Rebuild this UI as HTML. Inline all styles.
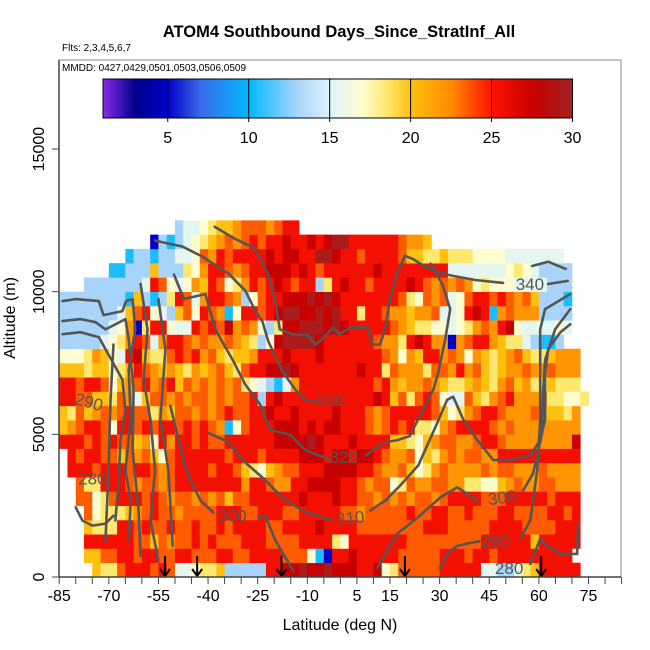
<!DOCTYPE html>
<html><head><meta charset="utf-8"><style>
html,body{margin:0;padding:0;background:#fff;}
svg{display:block;font-family:"Liberation Sans",Arial,sans-serif;}
</style></head><body>
<svg id="chart" width="650" height="650" viewBox="0 0 650 650" xmlns="http://www.w3.org/2000/svg">
<defs>
<linearGradient id="cbgrad" x1="0" x2="1" y1="0" y2="0"></linearGradient>
<clipPath id="plotclip"><rect x="59" y="60" width="562" height="517"/></clipPath>
</defs>
<text x="339" y="37" text-anchor="middle" font-size="16.5" font-weight="bold">ATOM4 Southbound Days_Since_StratInf_All</text>
<text x="62" y="51" font-size="10">Flts: 2,3,4,5,6,7</text>
<g id="heat" clip-path="url(#plotclip)"></g>
<g id="contours" clip-path="url(#plotclip)"></g>
<g id="arrows"></g>
<rect x="59" y="60" width="562" height="517" fill="none" stroke="#888" stroke-width="1"/>
<text x="62" y="71" font-size="10">MMDD: 0427,0429,0501,0503,0506,0509</text>
<g id="colorbar"></g>
<g id="axes"></g>
<text x="340" y="630" text-anchor="middle" font-size="16">Latitude (deg N)</text>
<text transform="translate(15,318) rotate(-90)" text-anchor="middle" font-size="16">Altitude (m)</text>
</svg>
<script>
// ---------- data ----------
const latTicks = [-85,-70,-55,-40,-25,-10,5,15,30,45,60,75];
const altTicks = [0,5000,10000,15000];
const cbTicks = [5,10,15,20,25,30];
const binWidthDeg = 2.5;
const binHeightM = 500;
const latOrigin = -85;
// value codes for the cell strings
const codeKeys = ['B','b','l','p','w','y','g','o','O','r','R','m'];
const codeVals = [5,10.5,13,15.5,17,18.5,20,22,23.5,25.5,27.5,29.5];
// altitude bins (row 0 = 0-500 m)
const rowStart = [4,3,3,3,3,2,2,1,1,0,0,0,0,0,0,0,0,0,0,0,3,6,8,11,14];
const rowCells = [
 "gyyOrrrOrOppwyyglllllrrRRmRRmRRRrrRwyOOOOOrrrrrppllpygrrrrr",
 "ggOOrrOrrOOrrOOOrrOOrrrrOOOwbBrrRrrrrrOOOOOrrrOrrOrrrrrrrrr",
 "rrrrrrOOgOoOOrOrOOOrrrOOOOrrrrywrrrrrrrOOOOOOOOOrrrrrrgrrrrr",
 "gyyyrrOrOOrOOrOOrOrrrrOOrrrrRrrrrOOOOOOOOrrrOOOOOrrrrOOOOrrr",
 "OwyyygoOrOOoOOOOrrrOOrrrOOrrrrrOOoOOOOOrOOrrOOrOOOrrOOOOrrOr",
 "OOwyOrrrOrOoOOoOoOgOOrrrrrrRrrrRrrOOoOoOoOOoOrrrrOOOrrrrrOrrr",
 "OyyrrrOoOOoOrrrrrrrrorrOoorrRRRRrrOoOOwyOooOOooyywwgoOooOOooo",
 "rrrOrrrOrrOoOrrrrOrrOgywgoOOrrrRRRRrrOooOgwyoOooooOoOOoooOoooo",
 "rOrrOOgOoOgwOrrrrrrOrrrOrrrrRRRrRRrRRrOooOwgyoOoOOoorrrrrrrrrr",
 "rrrOrOrOOgowrorrOrOOrrrrrrRRRRmRrrrRrrrrggywgoOOooOrrOooooooooR",
 "goOrrOwrrOrOrrOrOrOobwOrrrRRRrRrRRrrrOoOrOryywoOrrrrOoOoooooooo",
 "gyOgoOoOrOOyogOOoOoOrOOrrRrrRrrrrRrrrOoOrrrrrOgwyoOrrOoooOgggyo",
 "rrOOggyOopgOOoOoOOoOoOOrlrRrrrrrrrrrrrRrgOyOrOwppOgyoOrooooyywwy",
 "rrOrrOwgoOroOrgOoOoOoOywplbporrrrrrrrrOrogooOogyygogyoOgoyygyyy",
 "gggyggwygrOogogyogoOgyOrrRRmRrrrrrrrRrryOoooyOOoroOgygooOooOooo",
 "wwwyogwprRgyyOrOroOgyggorrrRrrrRrrrrrrrOowogrroOowogygoOgyygooo",
 "lllllpwyorOporrOoOooOogylwRmmmmRrrrrrrOooyrRrooBoOrrogyyplbbl",
 "llllllpwoByrrwpprOrORoOowlyRRmmmRmRrrrrrOogyywwpwyoOorRwppppwp",
 "lllllllpgOrwplgOwrOobwrrOrRmmRRmRmrryrrOoogooOppwrRrboOooollll",
 "llllllllbglblyrOporrOolwOrrRRRmRmRrrrrrrrOywOoOpwOrrOrOoOglllb",
 "lllllllprOwpwogrOwyorOrRrOrrlyrRrrOrrrrRrOoOoOowywwwpppplll",
 "bblllglllyworrOoOrrRRRrRrOrrrrrrRrrrrrrrrpppppppwywpllll",
 "bllbllppwOorOrrrrRrRRrrmmRrrOrrrrOggyygyyywwwwppppppp",
 "BlblpwygoOoOrOrrRrrRrRmmrrrrrrOoog",
 "lppwyggoOOOoOrr"
];
// contours: [lat, altitude m]
const contourLines = [
 [[-38,12280],[-32,11860],[-25.8,11510],[-21.9,10630],[-19.8,9740],[-18.3,8680],[-14.4,8510],[-9.8,8470],[-7.4,8150],[-5.6,8330],[-2.2,8750],[-0.1,8510],[2.9,8750],[8.3,8750],[9.6,8150],[12,8150],[13.5,8680],[15,9740],[17.1,10630],[19.5,11260],[21.9,11150],[25.6,10870],[32.5,10590],[40.7,10410],[49.2,10310]],
 [[-56,11790],[-47.7,11580],[-41.7,11230],[-33.8,10630],[-28.7,10030],[-25.7,9320],[-23.6,8970],[-21.8,8260],[-17.5,7200],[-13.6,6570],[-10.6,6210],[-7,6150]],
 [[-50.3,10600],[-47.3,9740],[-40.8,9920],[-37.8,8680],[-32.6,7620],[-28.7,6740],[-24.2,6040],[-21.1,5150],[-15.1,4980],[-10.6,4450],[-3,4100]],
 [[-39.9,5050],[-33.8,4730],[-29.6,4100],[-23.6,3490],[-17.5,2790],[-11.5,2330],[-2.4,1980]],
 [[-51.4,6000],[-47.4,4100],[-45.3,3390],[-42.3,2680],[-38.4,2260]],
 [[-24.8,2080],[-22.7,2150],[-19.6,1270],[-14.2,210]],
 [[11.2,320],[15,1090],[17.2,1520],[23.3,2080],[30.2,2790],[35.3,3140],[41.4,2680]],
 [[30.2,320],[32.3,810],[35.3,1090],[39.3,1200],[42,1250]],
 [[-80,2440],[-78,1980],[-75,1800],[-71,1870],[-68.6,2150]],
 [[57.4,460],[60.4,1340],[62.5,1090],[66.5,810],[71.6,810],[71.9,1870]],
 [[-84,9670],[-80,9740],[-73,9670],[-71.6,9180],[-65.9,9320],[-64.8,9670],[-62.8,9740],[-62,8680],[-64,7270],[-63.4,5510],[-65,3740],[-63.4,2680],[-64,1270]],
 [[-84,8970],[-78.5,9040],[-74,8930],[-71,8680],[-65,9040],[-64,8330],[-62.5,6570],[-62.8,4450],[-61,2330],[-60.4,740]],
 [[-84,8510],[-78.5,8580],[-73,8400],[-71,7980],[-65.9,6920],[-65,5860],[-66.5,4800],[-67,3390],[-68,1980]],
 [[-60.4,10270],[-58.3,8680],[-59.5,6920],[-57.4,5510],[-56,3740],[-57.4,1980],[-55,560]],
 [[-55,9740],[-52.9,7980],[-54.4,5510],[-52,3740],[-50.7,1090]],
 [[-68.6,8150],[-69.5,6210],[-70.1,3740],[-71,1270]]
];
const contourTail = [
 [[58,10900],[62.8,11050],[68.1,10800]],
 [[9,2330],[13.6,2680],[18.1,3210],[23.6,3920],[29.3,5400],[32.3,6210],[34.1,6320],[37.2,5510],[41.4,4800],[46.2,4100],[51.4,4100],[57.4,4270],[60.4,4800],[61.9,5510],[61.9,7100],[62.8,7980],[66.5,8580],[69.5,8860]],
 [[7.6,4240],[12.7,4700],[17.2,4800],[21,4940],[25.7,6040],[28.1,6570],[29.6,7170],[31.7,8330],[33.2,9390],[30.8,10270],[27.2,10980]],
 [[55.3,3040],[58.3,3640],[61,5050],[61.3,6570],[61.9,7620],[64.9,8680],[69.5,9390]],
 [[54.4,1340],[57.4,1980],[59.5,3740],[60.4,5510],[60.4,8680],[61.9,9390],[69.5,9920]],
 [[62.8,10270],[68.7,10380]]
];
const labelText = ['340','330','320','310','300','300','290','290','280','280'];
const labelLat = [57.3,-3,1,3,-32.6,48.9,46.8,-76,51,-75];
const labelAlt = [10270,6210,4200,2080,2150,2790,1270,6140,320,3460];
const labelRot = [0,0,0,-5,0,-8,0,15,0,0];
const arrowLats = [-53,-43.3,-17.8,19.5,60.7];
// colorbar palette
const cbStopVals = [1,3,5,7,10,13,15,17,18.5,20,22.5,25,27.5,30];
const cbStopCols = ['#8a2be8','#00008c','#0000c8','#3a6ae8','#00b8ff','#a8d4fa','#dcf4fc','#fffcd0','#ffe870','#ffc010','#ff8a00','#ff1400','#c80000','#a22222'];

// ---------- scales ----------
const xS = lat => 59.2 + (lat - latOrigin) * 3.308;
const yS = alt => 577 - alt * 0.02853;
const cbX = v => 103 + (v - 1) * 16.19;
const NS = 'http://www.w3.org/2000/svg';
function mk(tag, attrs, parent){ const e=document.createElementNS(NS,tag); for(const k in attrs) e.setAttribute(k,attrs[k]); parent.appendChild(e); return e; }
function hex2rgb(h){ return [parseInt(h.substr(1,2),16),parseInt(h.substr(3,2),16),parseInt(h.substr(5,2),16)]; }
function colorFor(v){
  if(v<=cbStopVals[0]) return cbStopCols[0];
  for(let i=1;i<cbStopVals.length;i++){
    if(v<=cbStopVals[i]){
      const t=(v-cbStopVals[i-1])/(cbStopVals[i]-cbStopVals[i-1]);
      const a=hex2rgb(cbStopCols[i-1]), b=hex2rgb(cbStopCols[i]);
      return 'rgb('+a.map((c,k)=>Math.round(c+(b[k]-c)*t)).join(',')+')';
    }
  }
  return cbStopCols[cbStopCols.length-1];
}

// ---------- heatmap ----------
const heat = document.getElementById('heat');
rowCells.forEach((s, r) => {
  const alt0 = r * binHeightM;
  for(let j=0;j<s.length;j++){
    const k = codeKeys.indexOf(s[j]);
    if(k<0) continue;
    const lat0 = latOrigin + (rowStart[r]+j)*binWidthDeg;
    const x0 = xS(lat0), x1 = xS(lat0+binWidthDeg);
    const y1 = yS(alt0), y0 = yS(alt0+binHeightM);
    const c = mk('rect',{x:x0.toFixed(2),y:y0.toFixed(2),width:(x1-x0+0.4).toFixed(2),height:(y1-y0+0.3).toFixed(2),fill:colorFor(codeVals[k])},heat);
    
    
  }
});

// ---------- contours ----------
const cg = document.getElementById('contours');
function drawLine(pts){
  const d = pts.map((p,i)=>(i?'L':'M')+xS(p[0]).toFixed(1)+' '+yS(p[1]).toFixed(1)).join(' ');
  const p = mk('path',{d:d,fill:'none',stroke:'#555','stroke-width':2.6,'stroke-linejoin':'round','stroke-linecap':'round'},cg);
  
  
}
contourLines.forEach(drawLine);
contourTail.forEach(drawLine);
labelText.forEach((t,i)=>{
  const x = xS(labelLat[i]), y = yS(labelAlt[i]);
  const tx = mk('text',{x:x.toFixed(1),y:(y+6).toFixed(1),'text-anchor':'middle','font-size':17,fill:'#555',transform:'rotate('+labelRot[i]+' '+x.toFixed(1)+' '+y.toFixed(1)+')'},cg);
  tx.textContent = t;
  
  
});

// ---------- arrows ----------
const ag = document.getElementById('arrows');
arrowLats.forEach(lat=>{
  const x = xS(lat);
  const a = mk('path',{d:'M'+x+' 556 L'+x+' 576 M'+(x-5)+' 569 L'+x+' 576 L'+(x+5)+' 569',stroke:'#000','stroke-width':2,fill:'none'},ag);
  
  
});

// ---------- colorbar ----------
const grad = document.getElementById('cbgrad');
cbStopVals.forEach((v,i)=>{ mk('stop',{offset:((v-1)/29).toFixed(4),'stop-color':cbStopCols[i]},grad); });
const cb = document.getElementById('colorbar');
const cbr = mk('rect',{x:cbX(1),y:79,width:cbX(30)-cbX(1),height:39,fill:'url(#cbgrad)',stroke:'#000','stroke-width':1},cb);


cbTicks.forEach(v=>{
  const x = cbX(v);
  const l = mk('line',{x1:x,x2:x,y1:79,y2:122,stroke:'#000','stroke-width':1},cb);
  
  
  const t = mk('text',{x:x,y:143,'text-anchor':'middle','font-size':16},cb);
  t.textContent = v;
  
  
});

// ---------- axes ----------
const ax = document.getElementById('axes');
const xl = mk('line',{x1:59,x2:621,y1:577,y2:577,stroke:'#444','stroke-width':1.5},ax);


for(let lat=-85; lat<=85; lat+=5){
  const x = xS(lat);
  const t = mk('line',{x1:x,x2:x,y1:577,y2:584,stroke:'#444','stroke-width':1},ax);
  
  
}
latTicks.forEach(lat=>{
  const t = mk('text',{x:xS(lat),y:601,'text-anchor':'middle','font-size':16},ax);
  t.textContent = lat;
  
  
});
const yl = mk('line',{x1:59,x2:59,y1:60,y2:577,stroke:'#444','stroke-width':1.5},ax);


altTicks.forEach(a=>{
  const y = yS(a);
  const t = mk('line',{x1:52,x2:59,y1:y,y2:y,stroke:'#444','stroke-width':1},ax);
  
  
  const lb = mk('text',{x:0,y:0,'text-anchor':'middle','font-size':16,transform:'translate(44,'+y.toFixed(1)+') rotate(-90)'},ax);
  lb.textContent = a;
  
  
});
</script>
</body></html>
